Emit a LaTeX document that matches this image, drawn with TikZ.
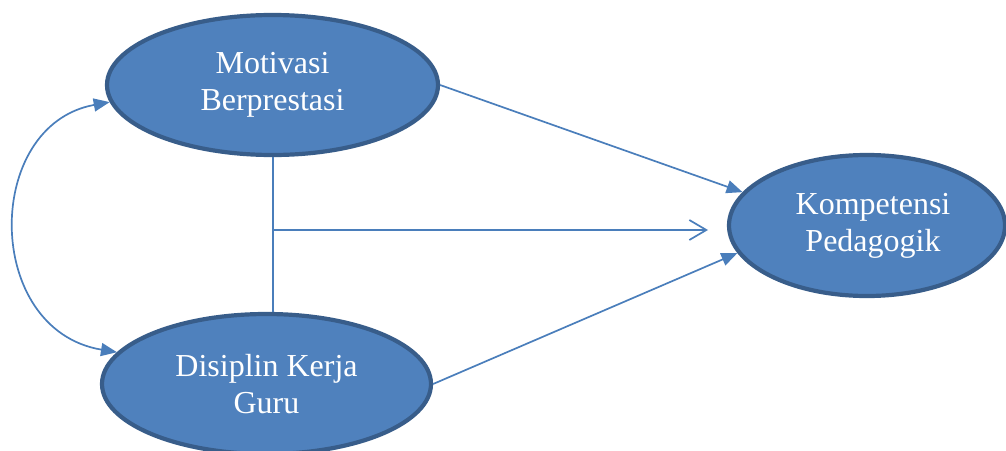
\documentclass[tikz,border=0pt]{standalone}
\usepackage{fontspec}
\setmainfont{Liberation Serif}
\usetikzlibrary{shapes.geometric,arrows.meta}

\definecolor{varfill}{HTML}{4F81BD}
\definecolor{vardraw}{HTML}{385D8A}
\definecolor{linkcol}{HTML}{4A7EBB}

\begin{document}
\begin{tikzpicture}[x=1pt,y=-1pt,
    construct/.style={
    % The shape:
        ellipse,
        minimum width=331pt, minimum height=140pt,
        inner sep=0pt,
        % The rest
        line width=4.2pt,
        draw=vardraw,
        fill=varfill,
        text=white,
        align=center,
        font=\fontsize{32}{37}\selectfont},
    link/.style={
        draw=linkcol,
        line width=1.7pt},
    solid tip/.style={
        {Triangle[length=16pt,width=13pt]}-{Triangle[length=16pt,width=13pt]}}
    ]

    \useasboundingbox (0,0) rectangle (1006,450);

    \node (motiv) [construct] at (272.5,85) {Motivasi\\Berprestasi};
    \node (disip) [construct, minimum width=329pt] at (266.5,384) {Disiplin Kerja\\Guru};
    \node (komp) [construct, minimum width=276pt, minimum height=141pt] at (867,225.5) {\hspace*{12pt}Kompetensi\\\hspace*{12pt}Pedagogik};

    \coordinate (joint) at (273,230);
    \coordinate (open_tip) at (708,230);

    % correlation between the two predictors
    \draw[link, solid tip] (disip.168) .. controls (-17,330) and (-17,125) .. (motiv.186);

    % direct effects
    \draw[link, -{Triangle[length=16pt,width=13pt]}] (motiv.east) -- (komp.165);
    \draw[link, -{Triangle[length=16pt,width=13pt]}] (disip.east) -- (komp.192);

    % joint effect
    \draw[link] (motiv.south -| joint) -- (disip.north -| joint);
    \draw[link, -{Straight Barb[length=17pt,width=20pt,line width=1.7pt]}] (joint) -- (open_tip);
\end{tikzpicture}
\end{document}
